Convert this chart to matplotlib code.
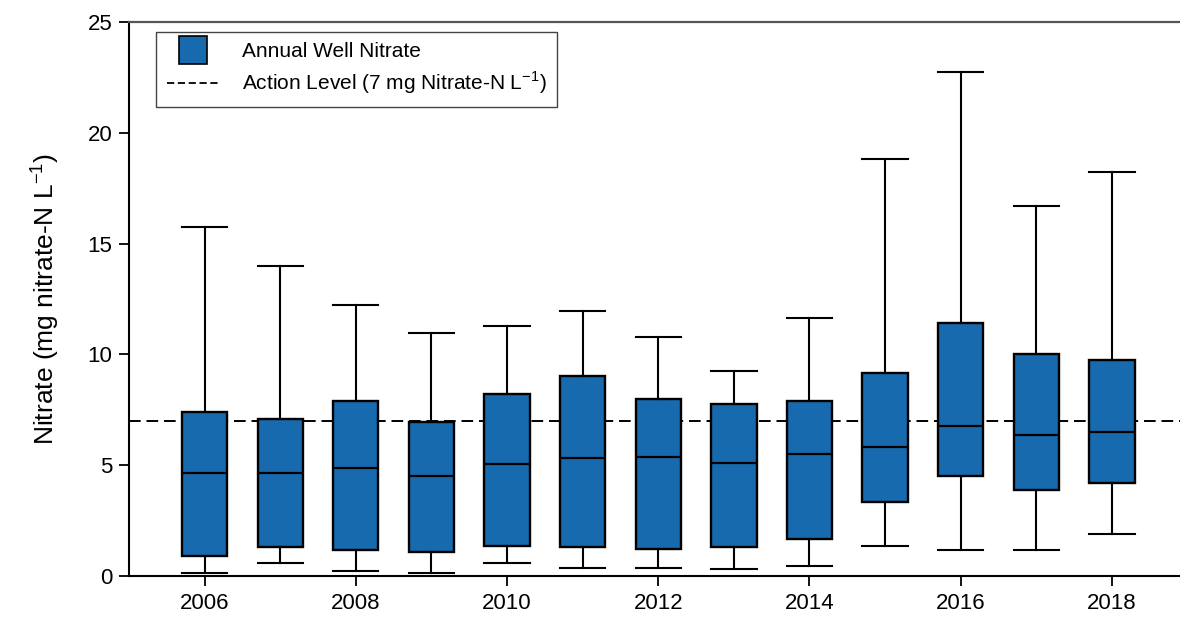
import numpy as np
import matplotlib
matplotlib.use('Agg')
import matplotlib.pyplot as plt
from matplotlib.lines import Line2D

plt.rcParams['font.family'] = ['Liberation Sans', 'DejaVu Sans']
plt.rcParams['mathtext.fontset'] = 'custom'
plt.rcParams['mathtext.rm'] = 'Liberation Sans'

# data
years = [2006, 2007, 2008, 2009, 2010, 2011, 2012, 2013, 2014, 2015, 2016, 2017, 2018]
whislo = [0.15, 0.58, 0.24, 0.15, 0.60, 0.35, 0.35, 0.32, 0.45, 1.37, 1.16, 1.16, 1.91]
q1 = [0.90, 1.30, 1.17, 1.07, 1.35, 1.29, 1.20, 1.32, 1.66, 3.35, 4.51, 3.89, 4.19]
med = [4.65, 4.66, 4.89, 4.51, 5.04, 5.31, 5.38, 5.11, 5.49, 5.83, 6.79, 6.36, 6.51]
q3 = [7.42, 7.10, 7.90, 6.96, 8.21, 9.04, 7.99, 7.76, 7.91, 9.18, 11.41, 10.02, 9.73]
whishi = [15.75, 14.0, 12.25, 10.95, 11.30, 11.96, 10.77, 9.27, 11.66, 18.8, 22.75, 16.68, 18.24]
action_level = 7
xticks = [2006, 2008, 2010, 2012, 2014, 2016, 2018]
yticks = [0, 5, 10, 15, 20, 25]

box_color = '#176aad'

stats = []
for i in range(len(years)):
    stats.append({'whislo': whislo[i], 'q1': q1[i], 'med': med[i],
                  'q3': q3[i], 'whishi': whishi[i], 'fliers': []})

fig = plt.figure(figsize=(11.8, 6.18), dpi=100)
ax = fig.add_axes([0.1093, 0.068, 0.8907, 0.8963])

ax.bxp(stats, positions=years, widths=0.6, capwidths=0.6, patch_artist=True,
       showfliers=False,
       boxprops=dict(facecolor=box_color, edgecolor='black', linewidth=1.7),
       medianprops=dict(color='black', linewidth=1.6),
       whiskerprops=dict(color='black', linewidth=1.5),
       capprops=dict(color='black', linewidth=1.5))

ax.axhline(action_level, color='black', linestyle=(0, (6, 3)), linewidth=1.4, zorder=1)

ax.set_xlim(2005, 2018.9)
ax.set_ylim(0, 25)
ax.set_xticks(xticks)
ax.set_xticklabels([str(y) for y in xticks])
ax.set_yticks(yticks)
ax.tick_params(axis='both', direction='out', length=7, width=1.3, labelsize=16, pad=5)

ax.spines['right'].set_visible(False)
ax.spines['top'].set_color('#555555')
ax.spines['top'].set_linewidth(1.6)
ax.spines['left'].set_linewidth(1.5)
ax.spines['bottom'].set_linewidth(1.5)

ax.set_ylabel(r'Nitrate (mg nitrate-N L$^{\mathregular{-1}}$)', fontsize=19, labelpad=19)

handles = [Line2D([], [], marker='s', markersize=20, markerfacecolor=box_color,
                  markeredgecolor='black', markeredgewidth=1.2, linestyle='None'),
           Line2D([], [], color='black', linestyle=(0, (4, 2)), linewidth=1.3)]
labels = ['Annual Well Nitrate', r'Action Level (7 mg Nitrate-N L$^{\mathregular{-1}}$)']
leg = ax.legend(handles, labels, loc='upper left', bbox_to_anchor=(0.026, 0.982),
                fontsize=15, fancybox=False, edgecolor='#444444', framealpha=1,
                handlelength=2.5, handletextpad=1.1, borderpad=0.5, labelspacing=0.4,
                borderaxespad=0)
leg.get_frame().set_linewidth(1.0)

fig.savefig('out.png', dpi=100)
